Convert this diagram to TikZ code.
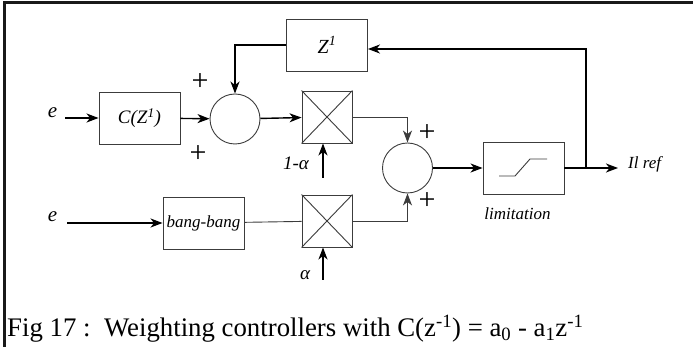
\documentclass[tikz,border=0pt]{standalone}
\usepackage{fontspec}
\setmainfont{Liberation Serif}
\usepackage{tikz}
\usetikzlibrary{positioning,calc}
\usetikzlibrary{arrows.meta}
\definecolor{LineGray}{RGB}{60,60,60}
\tikzset{
  blk/.style={rectangle,draw=LineGray,line width=0.9pt,fill=white,inner sep=0pt,
    minimum width=81pt,minimum height=52pt,font=\fontsize{17}{20}\selectfont\itshape},
  mult/.style={rectangle,draw=LineGray,line width=0.9pt,fill=white,inner sep=0pt,
    minimum width=50pt,minimum height=52pt},
  sumc/.style={circle,draw=LineGray,line width=0.9pt,fill=white,inner sep=0pt,minimum size=50pt},
  sig/.style={draw=black,line width=1.4pt,-{Stealth[length=12pt,width=9pt,inset=3.5pt]}},
  thinsig/.style={draw=LineGray,line width=0.9pt,-{Stealth[length=12pt,width=9pt,inset=3.5pt]}},
  wire/.style={draw=LineGray,line width=0.9pt},
}
\tikzset{lab/.style={inner sep=0pt,font=\fontsize{17}{20}\selectfont\itshape}, pl/.style={inner sep=0pt,font=\fontsize{30}{32}\selectfont}}

\begin{document}
\begin{tikzpicture}[x=1pt,y=-1pt]
\useasboundingbox (0,0) rectangle (694,347);
% frame
\draw[line width=2.5pt,black!90] (4.5,347) -- (4.5,2.5) -- (693,2.5);
% blocks
\node[blk,font=\fontsize{20}{22}\selectfont\itshape] (zbox) at (327,45) {Z\textsuperscript{1}};
\node[blk,font=\fontsize{19}{22}\selectfont\itshape] (cbox) at (139.5,118) {C(Z\textsuperscript{1})};
\node[sumc] (s1) at (235,119) {};
\node[mult] (m1) at (327,117) {};
\node[sumc] (s2) at (407.5,168) {};
\node[blk] (lim) at (523.5,168) {};
\node[blk] (bb) at (203.5,223) {bang-bang};
\node[mult] (m2) at (327,221) {};
\draw[wire] (m1.north west) -- (m1.south east) (m1.north east) -- (m1.south west);
\draw[wire] (m2.north west) -- (m2.south east) (m2.north east) -- (m2.south west);
\draw[wire] (499,176) -- (515,176) -- (530,159) -- (547,159);
% free ends
\coordinate (e1) at (65,118);
\coordinate (e2) at (67,223);
\coordinate (a1) at (323,178);
\coordinate (a2) at (323,280);
\coordinate (fb) at (586,168);
\coordinate (out) at (618,168);
% connectors
\draw[sig] (e1) -- (cbox);
\draw[sig] (cbox) -- (s1);
\draw[sig] (s1) -- (m1);
\draw[sig] (zbox.west) -| (s1.north);
\draw[thinsig] (m1.east) -| (s2.north);
\draw[wire] (bb) -- (m2);
\draw[thinsig] (m2.east) -| (s2.south);
\draw[sig] (e2) -- (bb);
\draw[sig] (a1) -- (a1 |- m1.south);
\draw[sig] (a2) -- (a2 |- m2.south);
\draw[sig] (s2) -- (lim);
\draw[sig] (lim) -- (out);
\draw[sig] (fb) |- ([yshift=-4pt]zbox.east);
% labels
\node[lab,anchor=base,font=\fontsize{21}{24}\selectfont\itshape] (le1) at (52.5,118) {e};
\node[lab,anchor=base,font=\fontsize{21}{24}\selectfont\itshape] (le2) at (52.5,222) {e};
\node[pl] (p1) at (200,82) {+};
\node[pl] (p2) at (198,154) {+};
\node[pl] (p3) at (427,133) {+};
\node[pl] (p4) at (427,201) {+};
\node[lab,font=\fontsize{19}{22}\selectfont\itshape] (l1a) at (296,163) {1-α};
\node[lab,font=\fontsize{19}{22}\selectfont\itshape] (la) at (305,275) {α};
\node[lab,anchor=base] (llim) at (517.5,220) {limitation};
\node[lab,anchor=base west] (lout) at (628,169) {Il ref};
\node[inner sep=0pt,anchor=base west,font=\fontsize{26.8}{30}\selectfont] (cap) at (7,337)
  {Fig 17 :\ \ Weighting controllers with C(z\textsuperscript{-1}) = a\textsubscript{0} - a\textsubscript{1}z\textsuperscript{-1}};
\end{tikzpicture}
\end{document}
